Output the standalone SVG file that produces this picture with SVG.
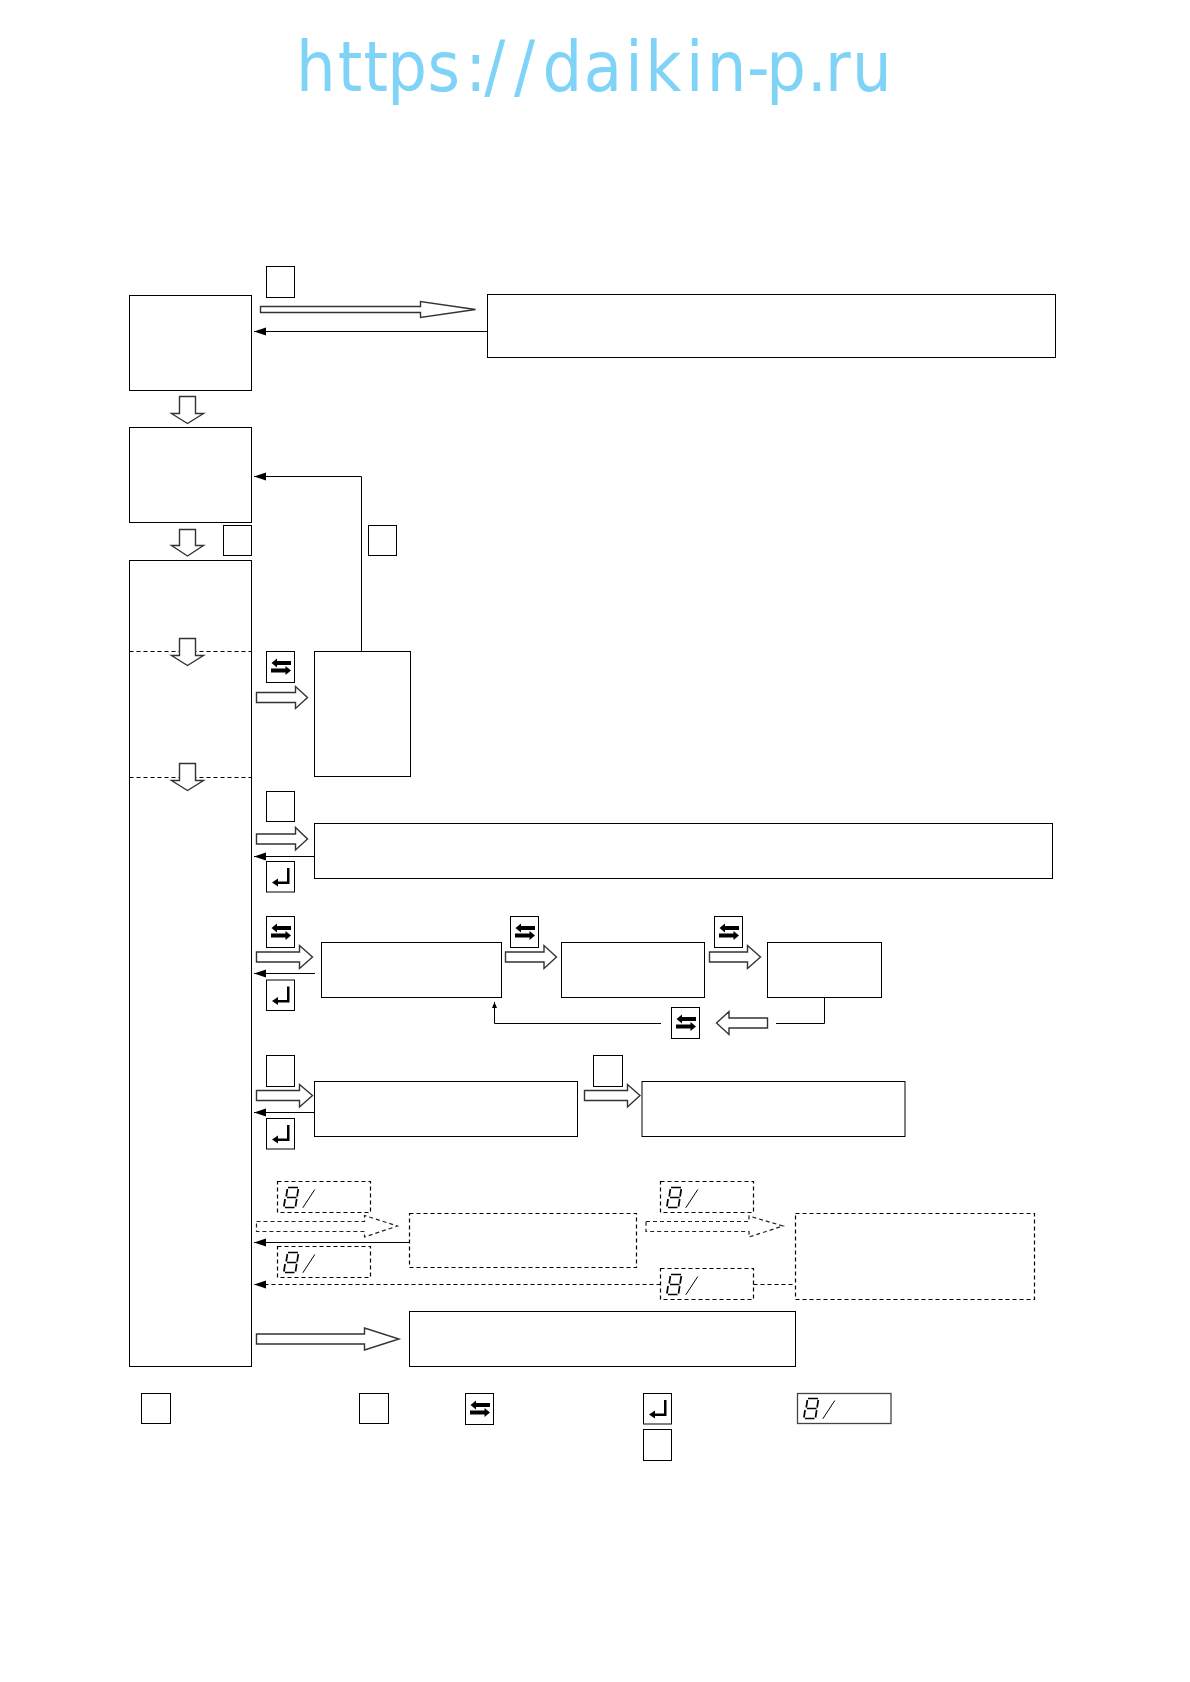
<svg xmlns="http://www.w3.org/2000/svg" width="1190" height="1682" viewBox="0 0 1190 1682">
<style>
.n{fill:#fff;stroke:#000;stroke-width:1}
.d{fill:none;stroke:#000;stroke-width:1.2;stroke-dasharray:4 3}
.l{fill:none;stroke:#000;stroke-width:1}
.b{fill:#fff;stroke:#333;stroke-width:1.4}
.bd{fill:#fff;stroke:#222;stroke-width:1.2;stroke-dasharray:4 3}
.wm{font-family:"DejaVu Sans",sans-serif;font-size:69.500px;fill:#7fd3f7}
.k{fill:#000;stroke:none}
.s{stroke:#000;stroke-width:1.700;fill:none}
</style>
<defs>
<marker id="ah" markerUnits="userSpaceOnUse" markerWidth="13" markerHeight="9" refX="12" refY="4" orient="auto">
<path d="M0 0L12 4L0 8Z" fill="#000"/>
</marker>
<marker id="ahs" markerUnits="userSpaceOnUse" markerWidth="7" markerHeight="6" refX="6" refY="2.5" orient="auto">
<path d="M0 0L6 2.5L0 5Z" fill="#000"/>
</marker>
<symbol id="swap" overflow="visible">
<rect class="n" x="0" y="0" width="28" height="31"/>
<path class="k" d="M5 11.500L10.500 7V9.500H24.500V13.500H10.500V16Z"/>
<path class="k" d="M24.500 19L19 14.500V17H4.500V21H19V23.500Z"/>
</symbol>
<symbol id="enter" overflow="visible">
<rect class="n" x="0" y="0" width="28" height="30.500"/>
<path class="k" d="M20.500 6.500H23V22.500H11.500V25L5.500 21L11.500 17V20H20.500Z"/>
</symbol>
<symbol id="seg" overflow="visible">
<path class="s" d="M10.500 6H20.500M20.800 7.500L19.600 15M9.500 16H19M19.200 17.500L18 25M7.500 26H17M7.600 17.500L6.400 25M9.900 7.500L8.700 15"/>
<path class="l" d="M25.300 26.300L37.300 8" stroke-width="1.200"/>
</symbol>
</defs>

<text id="watermark" class="wm" transform="scale(0.9 1)" y="91" x="329 375.300 404 430.300 474.900 516.900 538.200 571.100 602.700 648.600 694.600 717 762.300 785.300 829.900 851.400 896.700 916.800 946.800">https://daikin-p.ru</text>

<g id="node-a"><rect class="n" x="129.500" y="295.500" width="122" height="95"/></g>
<g id="node-a-key"><rect class="n" x="266.500" y="266.500" width="28" height="31"/></g>
<g id="node-b"><rect class="n" x="487.500" y="294.500" width="568" height="63"/></g>
<g id="node-c"><rect class="n" x="129.500" y="427.500" width="122" height="95"/></g>
<g id="node-c-key"><rect class="n" x="223.500" y="525.500" width="28" height="30"/></g>
<g id="node-d-key"><rect class="n" x="368.500" y="525.500" width="28" height="30"/></g>
<g id="node-main">
<rect class="n" x="129.500" y="560.500" width="122" height="806"/>
<line class="d" x1="129.500" y1="651.500" x2="251.500" y2="651.500"/>
<line class="d" x1="129.500" y1="777.500" x2="251.500" y2="777.500"/>
</g>
<g id="node-d"><rect class="n" x="314.500" y="651.500" width="96" height="125"/></g>
<g id="node-d-swap"><use href="#swap" x="266.500" y="651.500"/></g>
<g id="node-e-key"><rect class="n" x="266.500" y="791.500" width="28" height="30"/></g>
<g id="node-e"><rect class="n" x="314.500" y="823.500" width="738" height="55"/></g>
<g id="node-e-enter"><use href="#enter" x="266.500" y="861.500"/></g>
<g id="node-f-swap"><use href="#swap" x="266.500" y="916.500"/></g>
<g id="node-f"><rect class="n" x="321.500" y="942.500" width="180" height="55"/></g>
<g id="node-f-enter"><use href="#enter" x="266.500" y="980"/></g>
<g id="node-g-swap"><use href="#swap" x="510.500" y="916.500"/></g>
<g id="node-g"><rect class="n" x="561.500" y="942.500" width="143" height="55"/></g>
<g id="node-h-swap"><use href="#swap" x="714.500" y="916.500"/></g>
<g id="node-h"><rect class="n" x="767.500" y="942.500" width="114" height="55"/></g>
<g id="node-return-swap"><use href="#swap" x="671.500" y="1007.500"/></g>
<g id="node-i-key"><rect class="n" x="266.500" y="1055.500" width="28" height="31"/></g>
<g id="node-i"><rect class="n" x="314.500" y="1081.500" width="263" height="55"/></g>
<g id="node-i-enter"><use href="#enter" x="266.500" y="1118.500"/></g>
<g id="node-j-key"><rect class="n" x="593.500" y="1055.500" width="29" height="31"/></g>
<g id="node-j"><rect class="n" x="642" y="1081.500" width="263" height="55"/></g>
<g id="node-k-disp"><rect class="d" x="277.500" y="1181.500" width="93" height="31"/><use href="#seg" x="277.500" y="1181.500"/></g>
<g id="node-k"><rect class="d" x="409.500" y="1213.500" width="227" height="54"/></g>
<g id="node-k-back"><rect class="d" x="277.500" y="1246.500" width="93" height="31"/><use href="#seg" x="277.500" y="1246.500"/></g>
<g id="node-l-disp"><rect class="d" x="660.500" y="1181.500" width="93" height="31"/><use href="#seg" x="660.500" y="1181.500"/></g>
<g id="node-l"><rect class="d" x="795.500" y="1213.500" width="239" height="86"/></g>
<g id="node-l-back"><rect class="d" x="660.500" y="1268.500" width="93" height="31"/><use href="#seg" x="660.500" y="1268.500"/></g>
<g id="node-m"><rect class="n" x="409.500" y="1311.500" width="386" height="55"/></g>
<g id="legend-1"><rect class="n" x="141.500" y="1393.500" width="29" height="30"/></g>
<g id="legend-2"><rect class="n" x="359.500" y="1393.500" width="29" height="30"/></g>
<g id="legend-3"><use href="#swap" x="465.500" y="1393.500"/></g>
<g id="legend-4"><use href="#enter" x="643.500" y="1393.500"/></g>
<g id="legend-5"><rect class="n" x="643.500" y="1429.500" width="28" height="31"/></g>
<g id="legend-6"><rect class="n" x="797.500" y="1393.500" width="93.500" height="30" style="stroke:#444;stroke-width:1.300"/><use href="#seg" x="797.500" y="1392.500"/></g>

<g id="connectors">
<line class="l" x1="487.500" y1="331.500" x2="254" y2="331.500" marker-end="url(#ah)"/>
<path class="l" d="M361.500 651.500V476.500H254" marker-end="url(#ah)"/>
<line class="l" x1="314.500" y1="856.500" x2="254" y2="856.500" marker-end="url(#ah)"/>
<line class="l" x1="315" y1="973.500" x2="254" y2="973.500" marker-end="url(#ah)"/>
<line class="l" x1="314.500" y1="1112.500" x2="254" y2="1112.500" marker-end="url(#ah)"/>
<line class="l" x1="409.500" y1="1242.500" x2="254" y2="1242.500" marker-end="url(#ah)"/>
<line class="d" x1="660.500" y1="1284.500" x2="254" y2="1284.500" marker-end="url(#ah)"/>
<line class="d" x1="753.500" y1="1284.500" x2="795.500" y2="1284.500"/>
<path class="l" d="M661 1023.500H494.500V1002" marker-end="url(#ahs)"/>
<path class="l" d="M824.500 997.500V1023.500H776"/>
<polygon class="b" points="260.500,306.500 420.500,306.500 420.500,301.500 475.500,309.500 420.500,317.500 420.500,312.500 260.500,312.500"/>
<polygon class="b" points="179.500,396.500 195.500,396.500 195.500,413.500 203.500,413.500 187.500,423.500 171.500,413.500 179.500,413.500"/>
<polygon class="b" points="179.500,529.500 195.500,529.500 195.500,545.500 203.500,545.500 187.500,556 171.500,545.500 179.500,545.500"/>
<polygon class="b" points="179.500,638.500 195.500,638.500 195.500,655.500 203.500,655.500 187.500,665.500 171.500,655.500 179.500,655.500"/>
<polygon class="b" points="179.500,763.500 195.500,763.500 195.500,780.500 203.500,780.500 187.500,790.500 171.500,780.500 179.500,780.500"/>
<polygon class="b" points="256.500,692.500 295.500,692.500 295.500,686.500 307.500,697.500 295.500,708.500 295.500,702.500 256.500,702.500"/>
<polygon class="b" points="256.500,834 295.500,834 295.500,827.500 307.500,839 295.500,850 295.500,844 256.500,844"/>
<polygon class="b" points="256.500,952 299.500,952 299.500,945.500 312.500,957 299.500,968.500 299.500,962 256.500,962"/>
<polygon class="b" points="505.500,952 544,952 544,945.500 556.500,957 544,968.500 544,962 505.500,962"/>
<polygon class="b" points="709.500,952 747.500,952 747.500,945.500 760.500,957 747.500,968.500 747.500,962 709.500,962"/>
<polygon class="b" points="767.500,1018 729,1018 729,1011.500 716.500,1023 729,1034.500 729,1028 767.500,1028"/>
<polygon class="b" points="256.500,1090.500 299.500,1090.500 299.500,1084.500 312.500,1095.500 299.500,1107 299.500,1100.500 256.500,1100.500"/>
<polygon class="b" points="584.500,1090.500 627.500,1090.500 627.500,1084.500 640,1095.500 627.500,1107 627.500,1100.500 584.500,1100.500"/>
<polygon class="bd" points="256.500,1221.500 364.500,1221.500 364.500,1215.500 397.500,1226 364.500,1237 364.500,1231.500 256.500,1231.500"/>
<polygon class="bd" points="646,1221.500 749,1221.500 749,1216 783,1226 749,1237 749,1231.500 646,1231.500"/>
<polygon class="b" points="256.500,1334 364.500,1334 364.500,1328 399,1339 364.500,1350 364.500,1344 256.500,1344"/>
</g>
</svg>
